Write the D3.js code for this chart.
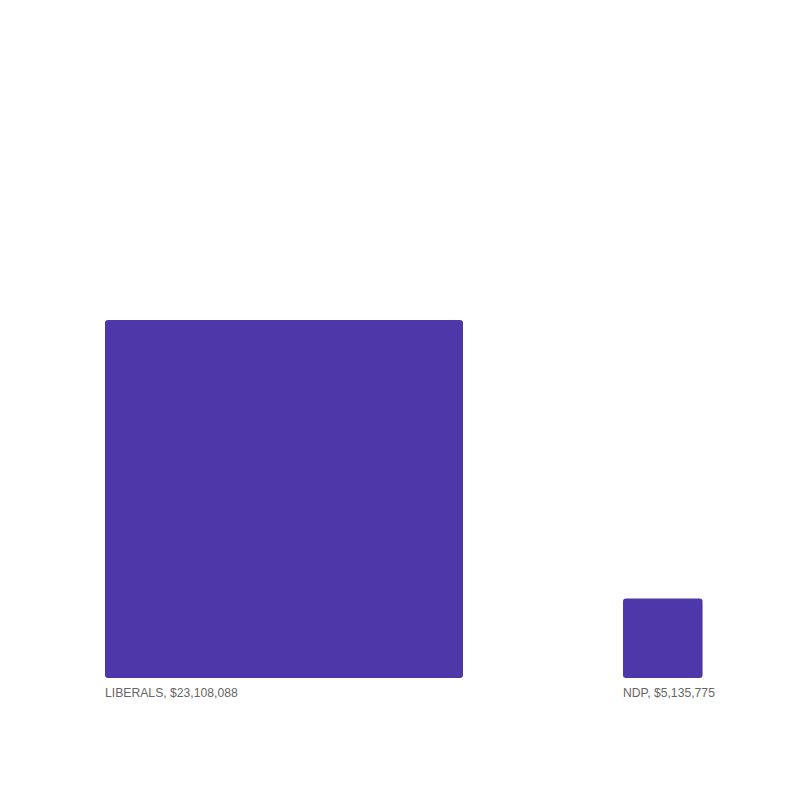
<!DOCTYPE html>
<html>
<head>
<meta charset="utf-8">
<script src="https://cdn.jsdelivr.net/npm/d3@7"></script>
<style>
  html, body { margin: 0; padding: 0; background: #fff; }
  svg { display: block; }
</style>
</head>
<body>
<svg id="chart" width="800" height="800"></svg>
<script>
const parties = ["LIBERALS", "NDP"];
const amounts = [23108088, 5135775];

const svg = d3.select("#chart");
const baseline = 678;

const x = d3.scalePoint().domain(parties).range([105, 623]);
const side = d3.scaleLinear().domain([0, d3.max(amounts)]).range([0, 358]);
const fmt = d3.format("$,");

const data = parties.map((p, i) => ({ party: p, amount: amounts[i] }));

const g = svg.append("g");
g.selectAll("rect").data(data).join("rect")
  .attr("x", d => x(d.party))
  .attr("y", d => baseline - side(d.amount))
  .attr("width", d => side(d.amount))
  .attr("height", d => side(d.amount))
  .attr("rx", 3).attr("ry", 3)
  .attr("fill", "#4e37a8");

g.selectAll("text").data(data).join("text")
  .attr("x", d => x(d.party))
  .attr("y", baseline + 19)
  .attr("font-family", "Liberation Sans, Arial, Helvetica, sans-serif")
  .attr("font-size", 12.2)
  .attr("fill", "#666")
  .text(d => `${d.party}, ${fmt(d.amount)}`);
</script>
</body>
</html>
